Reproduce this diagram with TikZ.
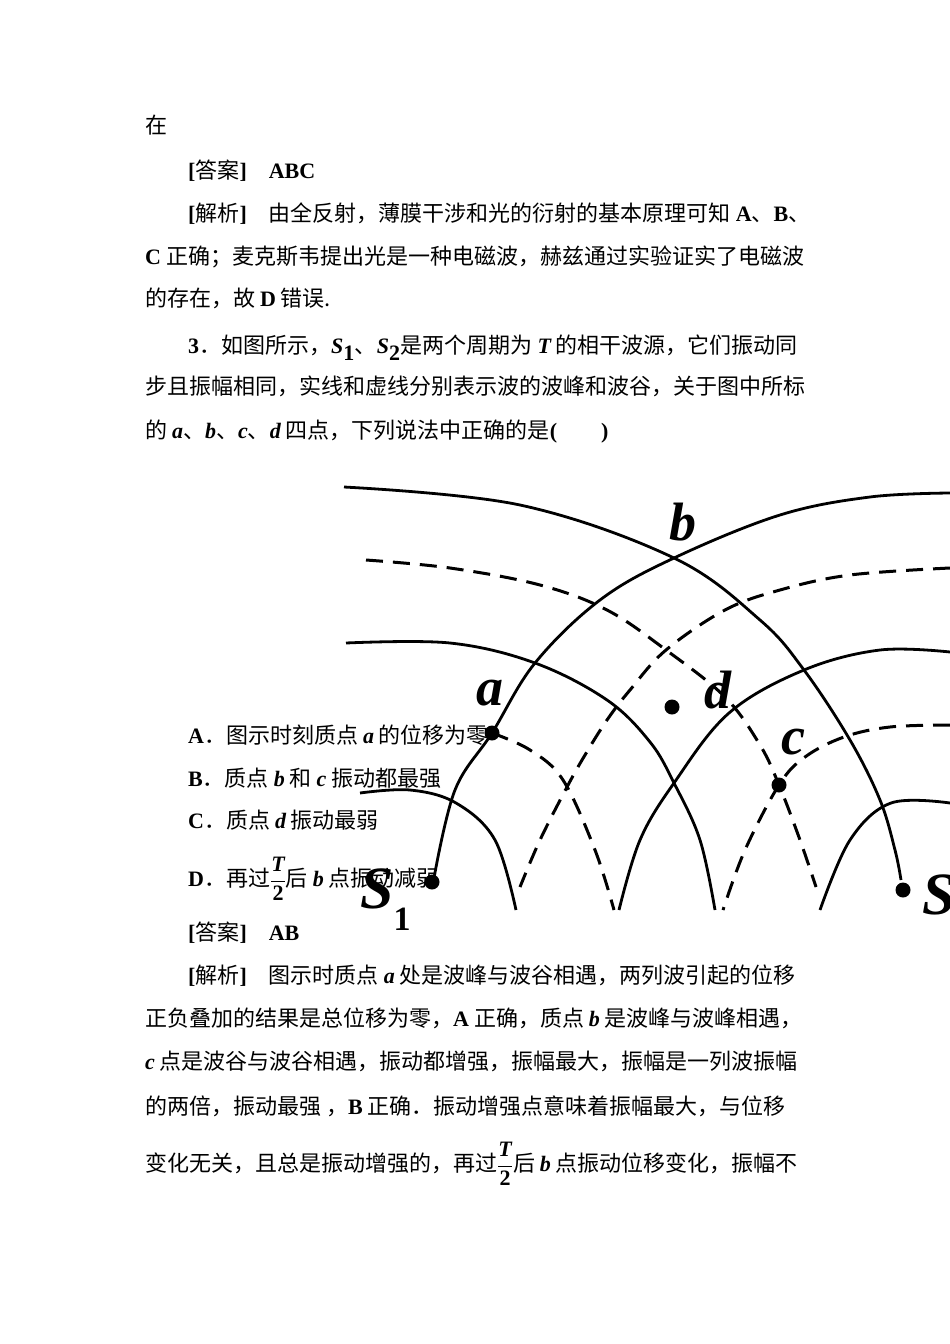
\documentclass[tikz,border=0pt]{standalone}
\usepackage{fontspec}
\setmainfont{Noto Sans CJK SC}
\newfontfamily\lt{Liberation Serif}
\newcommand{\bi}[1]{{\lt\bfseries\itshape #1}}
\newcommand{\bd}[1]{{\lt\bfseries #1}}
\newcommand{\halfT}{$\displaystyle\frac{\hbox{\bi{T}}}{\hbox{\bd{2}}}$}
\tikzset{
 txt/.style={anchor=base west,inner sep=0pt,font=\fontsize{22}{26}\selectfont},
 crest/.style={line width=2.8pt},
 trough/.style={line width=3pt,dash pattern=on 17pt off 10pt},
 pt/.style={circle,fill=black,inner sep=0pt,minimum size=15pt},
 lab/.style={inner sep=0pt,font=\fontsize{54}{54}\lt\bfseries\itshape}
}
\begin{document}
\begin{tikzpicture}[x=1pt,y=-1pt]
\useasboundingbox[fill=white] (0,0) rectangle (950,1344);
% crests (solid)
\draw[crest] plot[smooth,tension=0.6] coordinates {(344,487) (520,505) (674,558) (760,620) (804,670) (850,740) (880,800) (895,850) (901,880)};
\draw[crest] plot[smooth,tension=0.6] coordinates {(434,878) (455,790) (492,733) (535,663) (600,600) (674,558) (780,515) (870,497) (950,493)};
\draw[crest] plot[smooth,tension=0.6] coordinates {(346,643) (450,643) (535,663) (607,700) (650,742) (674,783) (700,840) (715,910)};
\draw[crest] plot[smooth,tension=0.6] coordinates {(950,652) (880,650) (804,670) (729,713) (674,783) (640,840) (619,910)};
\draw[crest] plot[smooth,tension=0.6] coordinates {(360,793) (410,790) (456,803) (495,840) (516,910)};
\draw[crest] plot[smooth,tension=0.6] coordinates {(950,803) (891,803) (850,840) (820,910)};
% troughs (dashed)
\draw[trough] plot[smooth,tension=0.6] coordinates {(366,560) (450,568) (540,585) (607,610) (666,650) (725,697) (760,745) (779,785) (800,840) (816,887)};
\draw[trough] plot[smooth,tension=0.6] coordinates {(950,568) (850,575) (780,590) (725,610) (666,650) (630,690) (607,720) (585,755) (567,787) (540,840) (520,887)};
\draw[trough] plot[smooth,tension=0.6] coordinates {(492,733) (530,750) (563,780) (595,850) (614,910)};
\draw[trough] plot[smooth,tension=0.6] coordinates {(950,725) (890,727) (844,737) (805,757) (779,785) (745,850) (723,910)};
% points
\node[pt] (a) at (492,733) {};
\node[pt] (d) at (672,707) {};
\node[pt] (c) at (779,785) {};
\node[pt] (s1) at (432,882) {};
\node[pt] (s2) at (903,890) {};
\node[lab] (la) at (490,693) {a};
\node[lab] (lb) at (683,522) {b};
\node[lab] (ld) at (718,690) {d};
\node[lab] (lc) at (793,742) {c};
\node[inner sep=0pt,anchor=west] (ls1) at (360,900) {\fontsize{60}{60}\lt\bfseries\itshape S\raisebox{-22pt}{\fontsize{34}{34}\lt\bfseries\upshape 1}};
\node[inner sep=0pt,anchor=west] (ls2) at (922,895) {\fontsize{60}{60}\lt\bfseries\itshape S};
% text
\node[txt] (t1) at (145,133) {在};
\node[txt] (t2) at (188,178) {\bd{[}答案\bd{]}　\bd{ABC}};
\node[txt] (t3) at (188,221) {\bd{[}解析\bd{]}　由全反射，薄膜干涉和光的衍射的基本原理可知 \bd{A}、\bd{B}、};
\node[txt] (t4) at (145,264) {\bd{C} 正确；麦克斯韦提出光是一种电磁波，赫兹通过实验证实了电磁波};
\node[txt] (t5) at (145,306) {的存在，故 \bd{D} 错误.};
\node[txt] (t6) at (188,353) {\bd{3}．如图所示，\bi{S}$_{\hbox{\bd{1}}}$、\bi{S}$_{\hbox{\bd{2}}}$是两个周期为 \bi{T} 的相干波源，它们振动同};
\node[txt] (t7) at (145,394) {步且振幅相同，实线和虚线分别表示波的波峰和波谷，关于图中所标};
\node[txt] (t8) at (145,438) {的 \bi{a}、\bi{b}、\bi{c}、\bi{d} 四点，下列说法中正确的是\bd{(}　　\bd{)}};
\node[txt] (oA) at (188,743) {\bd{A}．图示时刻质点 \bi{a} 的位移为零};
\node[txt] (oB) at (188,786) {\bd{B}．质点 \bi{b} 和 \bi{c} 振动都最强};
\node[txt] (oC) at (188,828) {\bd{C}．质点 \bi{d} 振动最弱};
\node[txt] (oD) at (188,886) {\bd{D}．再过\halfT 后 \bi{b} 点振动减弱};
\node[txt] (u1) at (188,940) {\bd{[}答案\bd{]}　\bd{AB}};
\node[txt] (u2) at (188,983) {\bd{[}解析\bd{]}　图示时质点 \bi{a} 处是波峰与波谷相遇，两列波引起的位移};
\node[txt] (u3) at (145,1026) {正负叠加的结果是总位移为零，\bd{A} 正确，质点 \bi{b} 是波峰与波峰相遇，};
\node[txt] (u4) at (145,1069) {\bi{c} 点是波谷与波谷相遇，振动都增强，振幅最大，振幅是一列波振幅};
\node[txt] (u5) at (145,1114) {的两倍，振动最强 ，\bd{B} 正确．振动增强点意味着振幅最大，与位移};
\node[txt] (u6) at (145,1171) {变化无关，且总是振动增强的，再过\halfT 后 \bi{b} 点振动位移变化，振幅不};
\end{tikzpicture}
\end{document}
